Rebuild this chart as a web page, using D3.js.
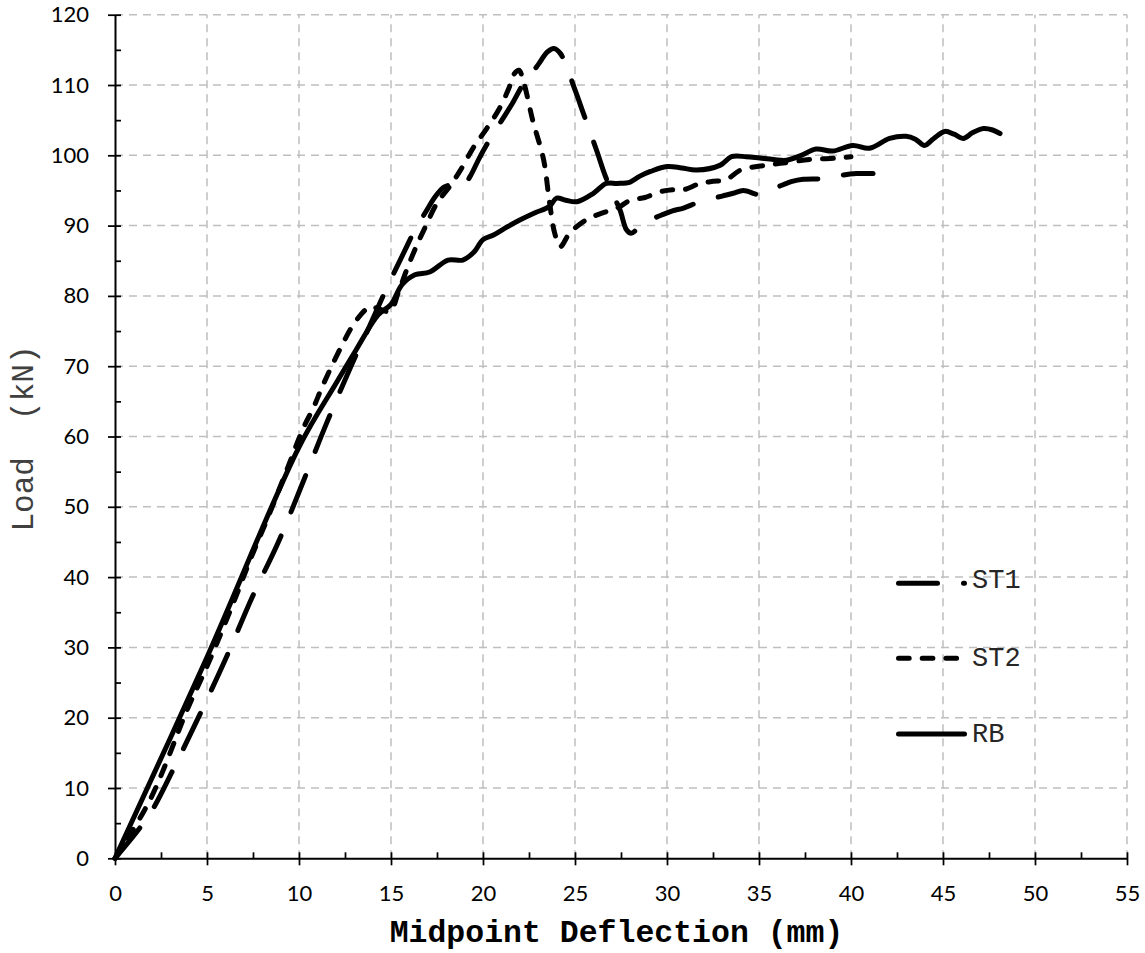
<!DOCTYPE html>
<html>
<head>
<meta charset="utf-8">
<script src="https://cdn.jsdelivr.net/npm/d3@7"></script>
<style>
  html, body { margin: 0; padding: 0; background: #fff; }
  svg { display: block; }
</style>
</head>
<body>
<div id="chart"></div>
<script>
// ---------------- DATA ----------------
const xTicks = [0, 5, 10, 15, 20, 25, 30, 35, 40, 45, 50, 55];
const yTicks = [0, 10, 20, 30, 40, 50, 60, 70, 80, 90, 100, 110, 120];
const xMinorTicks = [2.5, 7.5, 12.5, 17.5, 22.5, 27.5, 32.5, 37.5, 42.5, 47.5, 52.5];
const yMinorTicks = [5, 15, 25, 35, 45, 55, 65, 75, 85, 95, 105, 115];

const seriesNames = ["ST1", "ST2", "RB"];

const st1X = [0, 1.4, 2.1, 3.1, 4.6, 6.07, 7.43, 8.88, 10.23, 11.5, 12.86, 13.8, 14.8, 15.76, 16.3, 16.9, 17.4, 17.9, 18.4, 18.9, 19.3, 19.8, 20.4, 21.0, 21.6, 22.2, 22.6, 23.0, 23.5, 23.85, 24.2, 25.0, 25.45, 26.2, 26.6, 27.0, 27.45, 27.8, 28.05, 28.5, 29.1, 29.8, 30.3, 30.9, 31.8, 33.0, 33.6, 34.15, 35.05, 35.6, 36.2, 36.8, 37.4, 38.7, 39.6, 40.3, 41.2];
const st1Y = [0, 4.5, 7.2, 12.3, 20.4, 28.7, 37.0, 45.0, 53.6, 61.9, 70.2, 75.5, 81.3, 86.5, 89.4, 92.0, 94.1, 95.5, 95.8, 95.5, 97.0, 99.6, 102.4, 104.9, 107.4, 110.2, 111.5, 112.9, 114.7, 115.2, 114.5, 109.3, 106.0, 100.5, 97.4, 94.8, 92.2, 89.4, 88.9, 89.8, 90.8, 91.6, 92.1, 92.5, 93.4, 94.2, 94.6, 95.0, 94.4, 95.0, 95.7, 96.3, 96.6, 96.7, 97.2, 97.4, 97.4];

const st2X = [0, 1.9, 4.0, 5.0, 6.43, 7.34, 8.33, 9.33, 10.2, 10.8, 11.3, 12.3, 12.95, 13.6, 13.9, 14.3, 14.95, 15.4, 15.85, 16.4, 16.9, 17.5, 18.2, 18.8, 19.5, 20.2, 20.9, 21.4, 21.7, 21.95, 22.2, 22.7, 23.3, 23.6, 23.9, 24.2, 24.7, 25.6, 26.5, 27.3, 28.0, 28.8, 29.6, 30.3, 30.9, 31.8, 32.5, 33.2, 34.0, 35.4, 36.3, 37.8, 39.2, 40.0];
const st2Y = [0, 8.3, 21.6, 27.3, 36.3, 42.4, 48.6, 55.2, 61.0, 64.2, 67.3, 72.8, 75.9, 78.0, 78.5, 78.2, 77.8, 80.5, 83.7, 87.2, 90.0, 93.2, 95.6, 98.0, 101.2, 103.8, 106.7, 109.5, 111.6, 112.1, 110.5, 105.0, 99.3, 93.6, 88.9, 87.0, 88.9, 90.8, 91.8, 92.5, 93.6, 94.0, 94.8, 95.1, 95.1, 96.0, 96.3, 96.5, 97.9, 98.6, 98.9, 99.4, 99.6, 99.8];

const rbX = [0, 5, 10, 12, 13.1, 14.3, 15, 15.6, 16.3, 17.1, 18.1, 18.9, 19.5, 20.0, 20.6, 21.3, 22.0, 22.8, 23.6, 24.0, 24.5, 25.1, 26.0, 26.7, 27.3, 28.0, 28.5, 29.1, 30.0, 30.8, 31.6, 32.9, 33.5, 34.3, 35.05, 35.8, 36.5, 37.3, 38.1, 39.0, 40.1, 41.0, 42.1, 43.0, 43.5, 44.0, 44.5, 45.1, 45.6, 46.1, 46.6, 47.2, 47.7, 48.1];
const rbY = [0, 28.6, 58.5, 67.5, 72.3, 77.3, 78.8, 81.6, 83.0, 83.4, 85.1, 85.1, 86.2, 88.0, 88.7, 89.8, 90.8, 91.8, 92.7, 93.9, 93.6, 93.4, 94.6, 96.0, 96.0, 96.2, 97.0, 97.7, 98.4, 98.2, 97.9, 98.6, 99.8, 99.8, 99.6, 99.4, 99.3, 100.0, 100.9, 100.6, 101.4, 101.0, 102.4, 102.7, 102.3, 101.4, 102.4, 103.4, 103.0, 102.4, 103.2, 103.8, 103.6, 103.1];

// ---------------- CHART ----------------
const W = 1145, H = 953;
const svg = d3.select("#chart").append("svg").attr("width", W).attr("height", H);

const x = d3.scaleLinear().domain([0, 55]).range([115, 1127]);
const y = d3.scaleLinear().domain([0, 120]).range([858.3, 14.7]);

const monoFont = "'Courier New', 'Nimbus Mono PS', 'Nimbus Mono L', FreeMono, 'Liberation Mono', monospace";

// grid
const grid = svg.append("g").attr("stroke", "#bfbfbf").attr("stroke-width", 1.5).attr("stroke-dasharray", "8,6");
grid.selectAll("line.h").data(yTicks.filter(d => d > 0)).join("line")
  .attr("x1", x(0)).attr("x2", x(55)).attr("y1", d => y(d)).attr("y2", d => y(d));
grid.selectAll("line.v").data(xTicks.filter(d => d > 0)).join("line")
  .attr("y1", y(0)).attr("y2", y(120)).attr("x1", d => x(d)).attr("x2", d => x(d));

// series
const series = [
  { name: "ST1", xs: st1X, ys: st1Y, dash: "39,26" },
  { name: "ST2", xs: st2X, ys: st2Y, dash: "10.7,13" },
  { name: "RB",  xs: rbX,  ys: rbY,  dash: null }
];
const line = d3.line().x(d => x(d[0])).y(d => y(d[1])).curve(d3.curveCatmullRom.alpha(0.5));
series.forEach(s => {
  const pts = s.xs.map((v, i) => [v, s.ys[i]]);
  svg.append("path").datum(pts)
    .attr("d", line)
    .attr("fill", "none")
    .attr("stroke", "#000")
    .attr("stroke-width", 5)
    .attr("stroke-linecap", "round")
    .attr("stroke-linejoin", "round")
    .attr("stroke-dasharray", s.dash);
});

// axes
const tickFont = "Lato, 'Open Sans', sans-serif";
const yAxis = svg.append("g").attr("transform", `translate(${x(0)},0)`)
  .call(d3.axisLeft(y).tickValues(yTicks).tickSizeInner(7).tickSizeOuter(0).tickPadding(19));
yAxis.selectAll(".tick line").attr("x1", 6).attr("stroke-width", 1.75);
yAxis.select(".domain").attr("stroke-width", 2);
yAxis.selectAll("text").attr("font-family", tickFont).attr("font-size", 22).attr("fill", "#000");

const yMinor = svg.append("g").attr("transform", `translate(${x(0)},0)`)
  .call(d3.axisLeft(y).tickValues(yMinorTicks).tickSize(-6).tickFormat(""));
yMinor.select(".domain").remove();
yMinor.selectAll(".tick line").attr("stroke-width", 1.75);

const xAxis = svg.append("g").attr("transform", `translate(0,${y(0)})`)
  .call(d3.axisBottom(x).tickValues(xTicks).tickSizeInner(7).tickSizeOuter(0));
xAxis.selectAll(".tick line").attr("y1", -6).attr("stroke-width", 1.75);
xAxis.select(".domain").attr("stroke-width", 2);
xAxis.selectAll("text").attr("font-family", tickFont).attr("font-size", 22).attr("fill", "#000")
  .attr("y", 42.7).attr("dy", 0);

const xMinor = svg.append("g").attr("transform", `translate(0,${y(0)})`)
  .call(d3.axisBottom(x).tickValues(xMinorTicks).tickSize(-6).tickFormat(""));
xMinor.select(".domain").remove();
xMinor.selectAll(".tick line").attr("stroke-width", 1.75);

// axis titles
svg.append("text")
  .attr("x", 616.5).attr("y", 942)
  .attr("text-anchor", "middle")
  .attr("font-family", monoFont)
  .attr("font-weight", "bold").attr("font-size", 31.5)
  .attr("fill", "#000")
  .text("Midpoint Deflection (mm)");

svg.append("text")
  .attr("transform", "translate(33,438.5) rotate(-90)")
  .attr("text-anchor", "middle")
  .attr("font-family", monoFont)
  .attr("font-size", 31)
  .attr("fill", "#404040")
  .style("white-space", "pre")
  .attr("xml:space", "preserve")
  .text("Load  (kN)");

// legend
const legendY = [583.3, 658.3, 734];
const legendTextY = [588, 666, 741.5];
const lg = svg.append("g");
series.forEach((s, i) => {
  lg.append("line")
    .attr("x1", 898.5).attr("x2", 964.5)
    .attr("y1", legendY[i]).attr("y2", legendY[i])
    .attr("stroke", "#000").attr("stroke-width", 5)
    .attr("stroke-linecap", "round")
    .attr("stroke-dasharray", s.dash);
  lg.append("text")
    .attr("x", 972).attr("y", legendTextY[i])
    .attr("font-family", monoFont)
    .attr("font-size", 27)
    .attr("fill", "#262626")
    .text(seriesNames[i]);
});
</script>
</body>
</html>
